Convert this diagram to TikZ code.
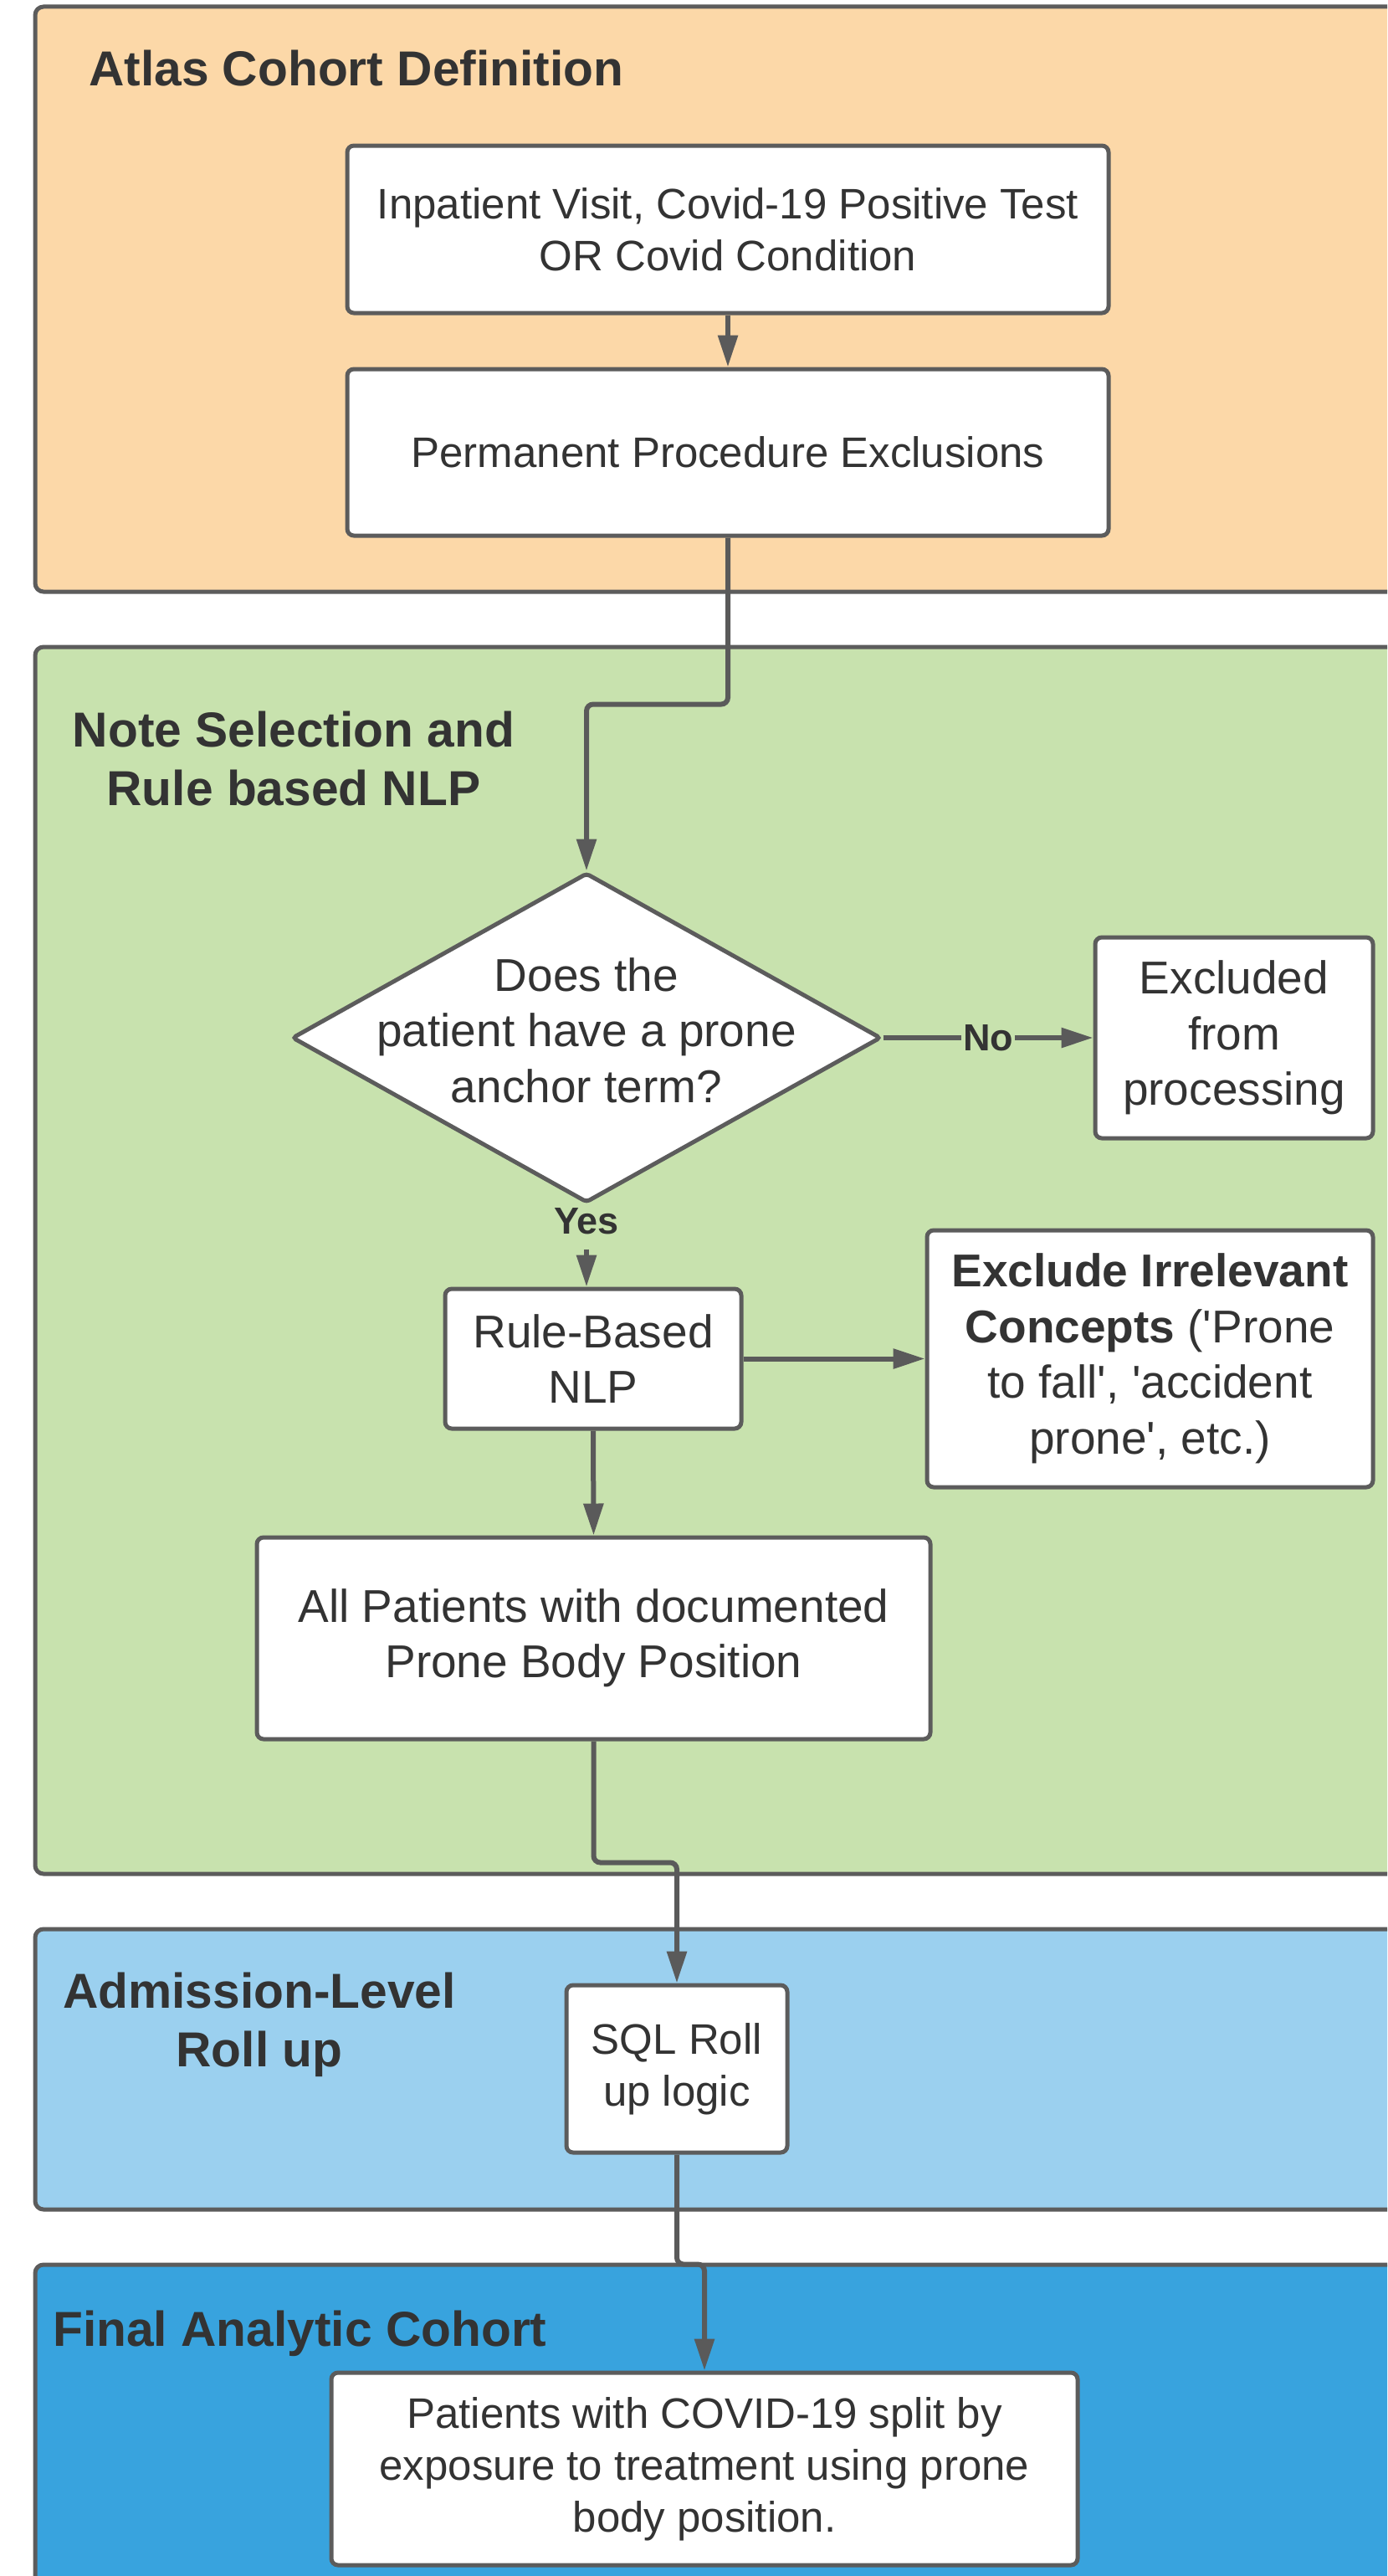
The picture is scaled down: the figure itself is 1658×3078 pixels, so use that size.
\documentclass[tikz,border=0pt]{standalone}
\usepackage{fontspec}
\setmainfont{Liberation Sans}
\usetikzlibrary{arrows.meta,shapes.geometric,calc}
\definecolor{orangeP}{HTML}{FCD8A8}
\definecolor{greenP}{HTML}{C8E2AE}
\definecolor{lblueP}{HTML}{9BD0EF}
\definecolor{dblueP}{HTML}{38A3DE}
\definecolor{edgeC}{HTML}{5C5C5C}
\definecolor{lineC}{HTML}{5A5A5A}
\definecolor{txtC}{HTML}{333333}
\tikzset{
  panel/.style={draw=edgeC, line width=5pt, rounded corners=10pt},
  box/.style={draw=edgeC, fill=white, line width=5pt, rounded corners=8pt, align=center, text=txtC, inner sep=0pt},
  fsA/.style={font=\fontsize{51}{62}\selectfont},
  fsB/.style={font=\fontsize{55}{66.5}\selectfont},
  ttl/.style={font=\fontsize{58.7}{70}\selectfont\bfseries, text=txtC, align=center, inner sep=0pt},
  conn/.style={draw=lineC, line width=6pt, -{Triangle[length=38pt,width=23pt]}},
  lbl/.style={font=\fontsize{45}{54}\selectfont\bfseries, text=txtC, inner sep=0pt},
}
\begin{document}
\begin{tikzpicture}[x=1pt,y=-1pt]
\useasboundingbox (0,0) rectangle (1658,3078);
\fill[white] (0,0) rectangle (1658,3078);
\clip (0,0) rectangle (1658,3078);
% panels
\draw[panel, fill=orangeP] (42,8) rectangle (1720,707);
\draw[panel, fill=greenP] (42,773) rectangle (1720,2239);
\draw[panel, fill=lblueP] (42,2305) rectangle (1720,2640);
\draw[panel, fill=dblueP] (42,2706) rectangle (1720,3140);
% titles
\node[ttl, anchor=base west] (t1) at (106,102) {Atlas Cohort Definition};
\node[ttl] (t2) at (351,907) {Note Selection and\\Rule based NLP};
\node[ttl] (t3) at (310,2419) {Admission-Level\\Roll up};
\node[ttl, anchor=base west] (t4) at (63,2803) {Final Analytic Cohort};
% boxes
\node[box, fsA, minimum width=910pt, minimum height=200pt] (b1) at (870,274) {Inpatient Visit, Covid-19 Positive Test\\OR Covid Condition};
\node[box, fsA, minimum width=910pt, minimum height=199pt] (b2) at (870,540.5) {Permanent Procedure Exclusions};
\node[diamond, draw=edgeC, fill=white, line width=5pt, inner sep=0pt, minimum width=704pt, minimum height=394pt, rounded corners=4pt] (dec) at (701,1240) {};
\node[fsB, text=txtC, align=center, inner sep=0pt] (dect) at (701,1231) {Does the\\patient have a prone\\anchor term?};
\node[box, fsB, minimum width=332pt, minimum height=240pt] (excl) at (1475,1240) {Excluded\\from\\processing};
\node[box, fsB, minimum width=354pt, minimum height=167pt] (rule) at (709,1623.5) {Rule-Based\\NLP};
\node[box, fsB, minimum width=533pt, minimum height=307pt] (irr) at (1374.5,1623.5) {\textbf{Exclude Irrelevant}\\\textbf{Concepts} (\textquotesingle Prone\\to fall\textquotesingle, \textquotesingle accident\\prone\textquotesingle, etc.)};
\node[box, fsB, minimum width=805pt, minimum height=241pt] (allp) at (709.5,1957.5) {All Patients with documented\\Prone Body Position};
\node[box, fsA, minimum width=264pt, minimum height=200pt] (sql) at (809,2472) {SQL Roll\\up logic};
\node[box, fsA, minimum width=892pt, minimum height=230pt] (final) at (842,2950) {Patients with COVID-19 split by\\exposure to treatment using prone\\body position.};
\node[lbl, outer ysep=18pt] (yes) at (701,1459) {Yes};
% connectors
\draw[conn] (b1.south) -- (b2.north);
\draw[conn, rounded corners=8pt] (b2.south) -- ++(0,199) -| (dec.north);
\draw[conn] (dec.east) -- node[lbl, fill=greenP, inner xsep=2pt, inner ysep=4pt] (no) {No} (excl.west);
\draw[conn] (yes.south) -- (yes.south |- rule.north);
\draw[conn] (rule.east) -- (irr.west);
\draw[conn] (rule.south) -- (allp.north);
\draw[conn, rounded corners=8pt] (allp.south) -- ++(0,145) -| (sql.north);
\draw[conn, rounded corners=8pt] (sql.south) -- ++(0,131) -| (final.north);
\end{tikzpicture}
\end{document}
